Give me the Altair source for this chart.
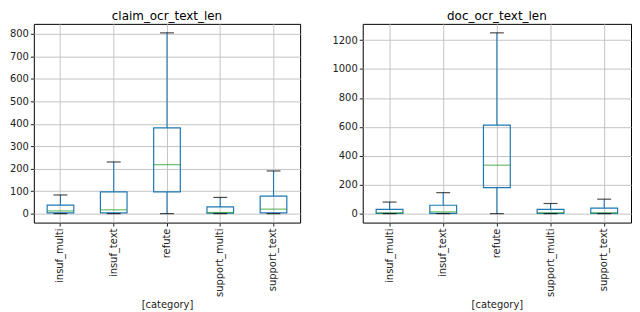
import altair as alt
import pandas as pd

categories = ["insuf_multi", "insuf_text", "refute", "support_multi", "support_text"]

claim_min = [0, 0, 0, 0, 0]
claim_q1 = [3, 3, 97, 2, 3]
claim_median = [12, 17, 218, 5, 20]
claim_q3 = [38, 97, 382, 30, 78]
claim_max = [83, 230, 805, 72, 190]

doc_min = [0, 0, 0, 0, 0]
doc_q1 = [2, 2, 180, 2, 2]
doc_median = [5, 12, 335, 5, 5]
doc_q3 = [30, 58, 612, 30, 38]
doc_max = [80, 145, 1250, 70, 100]

claim_ticks = [0, 100, 200, 300, 400, 500, 600, 700, 800]
doc_ticks = [0, 200, 400, 600, 800, 1000, 1200]

BLUE = "#1f77b4"
GREEN = "#2ca02c"
FONT = "DejaVu Sans"


def make_df(mn, q1, med, q3, mx):
    return pd.DataFrame({"category": categories, "min": mn, "q1": q1,
                         "median": med, "q3": q3, "max": mx})


def panel(df, title, domain, ticks, w, h):
    x = alt.X("category:N", sort=categories, title="[category]",
              scale=alt.Scale(paddingInner=0, paddingOuter=0),
              axis=alt.Axis(labelAngle=270, bandPosition=0.5, grid=True,
                            labelFont=FONT, labelFontSize=10, labelColor="#222",
                            titleFont=FONT, titleFontSize=10, titleFontWeight="normal",
                            titleColor="#222", titlePadding=3,
                            tickColor="#222", tickSize=3.5, domain=False,
                            gridColor="#c4c4c4", gridWidth=1, labelPadding=2))
    ysc = alt.Scale(domain=domain, nice=False, zero=False)
    yax = alt.Axis(values=ticks, title=None, grid=True, labelFont=FONT, format="d",
                   labelFontSize=10, labelColor="#222", tickColor="#222",
                   tickSize=3.5, domain=False, gridColor="#c4c4c4", gridWidth=1,
                   labelPadding=2)
    base = alt.Chart(df)
    lower = base.mark_rule(color=BLUE, strokeWidth=1.1).encode(
        x=x, y=alt.Y("min:Q", scale=ysc, axis=yax), y2="q1:Q")
    upper = base.mark_rule(color=BLUE, strokeWidth=1.1).encode(
        x=x, y=alt.Y("q3:Q", scale=ysc, axis=yax), y2="max:Q")
    box = base.mark_bar(width=alt.RelativeBandSize(0.5), fillOpacity=0,
                        stroke=BLUE, strokeWidth=1.2).encode(
        x=x, y=alt.Y("q1:Q", scale=ysc, axis=yax), y2="q3:Q")
    med = base.mark_tick(color=GREEN, size=27, thickness=1.2).encode(
        x=x, y=alt.Y("median:Q", scale=ysc, axis=yax))
    cap_lo = base.mark_tick(color="black", size=14, thickness=1.2).encode(
        x=x, y=alt.Y("min:Q", scale=ysc, axis=yax))
    cap_hi = base.mark_tick(color="black", size=14, thickness=1.2).encode(
        x=x, y=alt.Y("max:Q", scale=ysc, axis=yax))
    return alt.layer(lower, upper, box, med, cap_lo, cap_hi).properties(
        width=w, height=h,
        title=alt.TitleParams(title, font=FONT, fontSize=12, fontWeight="normal",
                              color="black", offset=1))


left = panel(make_df(claim_min, claim_q1, claim_median, claim_q3, claim_max),
             "claim_ocr_text_len", [-40, 845], claim_ticks, 268, 200)
right = panel(make_df(doc_min, doc_q1, doc_median, doc_q3, doc_max),
              "doc_ocr_text_len", [-62, 1312], doc_ticks, 270, 200)

chart = alt.hconcat(left, right, spacing=30).resolve_scale(
    x="independent", y="independent").properties(padding=0).configure(
    background="white").configure_view(stroke="black", strokeWidth=1)

chart.save("out.html", embed_options={"renderer": "svg", "actions": False})
